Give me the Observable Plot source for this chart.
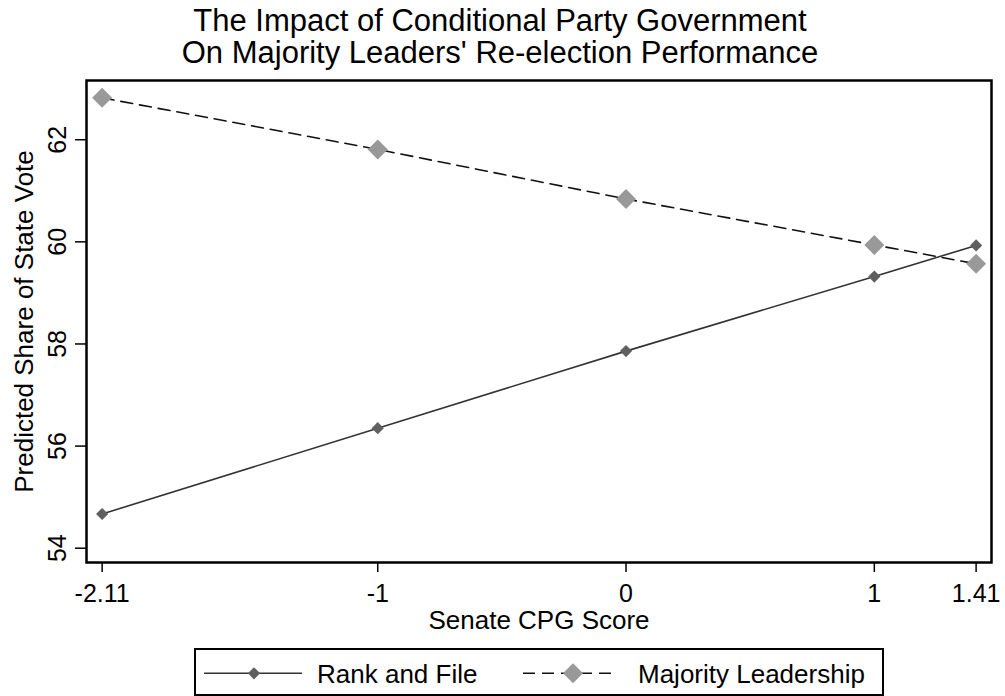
<!DOCTYPE html>
<html><head><meta charset="utf-8">
<script src="https://cdn.jsdelivr.net/npm/d3@7"></script>
<script src="https://cdn.jsdelivr.net/npm/@observablehq/plot@0.6"></script>
<style>
body{margin:0;background:#fff;font-family:"Liberation Sans",Arial,sans-serif;}
#wrap{position:relative;width:1005px;height:696px;overflow:hidden;background:#fff;}
.tline{position:absolute;left:0;width:1000px;text-align:center;font-size:31px;line-height:31px;height:31px;color:#000;white-space:nowrap;}
#t1{top:5px;} #t2{top:37px;}
#chart{position:absolute;left:0;top:70px;}
#legend{position:absolute;left:194px;top:648px;}
</style></head><body>
<div id="wrap">
<div id="t1" class="tline"></div>
<div id="t2" class="tline"></div>
<div id="chart"></div>
<div id="legend"></div>
</div>
<script>
const titleLines = ["The Impact of Conditional Party Government", "On Majority Leaders' Re-election Performance"];
const cpgScores = [-2.11, -1, 0, 1, 1.41];
const rankAndFile = [54.67, 56.35, 57.86, 59.32, 59.93];
const majorityLeadership = [62.82, 61.81, 60.84, 59.94, 59.57];
const seriesNames = ["Rank and File", "Majority Leadership"];
const xTicks = [-2.11, -1, 0, 1, 1.41];
const yTicks = [54, 56, 58, 60, 62];
const xDomain = [-2.173, 1.472];
const yDomain = [53.72, 63.16];
const xLabel = "Senate CPG Score";
const yLabel = "Predicted Share of State Vote";

document.getElementById("t1").textContent = titleLines[0];
document.getElementById("t2").textContent = titleLines[1];

const rankRows = cpgScores.map((x, i) => ({x, y: rankAndFile[i], series: seriesNames[0]}));
const majRows = cpgScores.map((x, i) => ({x, y: majorityLeadership[i], series: seriesNames[1]}));

const font = "'Liberation Sans', Arial, sans-serif";
const chart = Plot.plot({
  width: 1005, height: 560,
  marginTop: 10, marginLeft: 86, marginRight: 14, marginBottom: 68,
  x: {domain: xDomain},
  y: {domain: yDomain},
  style: {fontFamily: font, fontSize: "25px", color: "#000", background: "#fff", overflow: "visible"},
  marks: [
    Plot.axisX({ticks: xTicks, tickFormat: d => String(d), tickSize: 10, tickPadding: 12, strokeWidth: 1.5, label: null, fontSize: 25}),
    Plot.axisY({ticks: yTicks, tickSize: 11, tickFormat: () => "", strokeWidth: 1.5, label: null}),
    Plot.text(yTicks, {y: d => d, text: d => String(d), frameAnchor: "left", textAnchor: "middle", rotate: -90, dx: -29, fontSize: 25, lineAnchor: "middle"}),
    Plot.text([yLabel], {text: d => d, frameAnchor: "left", textAnchor: "middle", rotate: -90, dx: -62, fontSize: 26, lineAnchor: "middle"}),
    Plot.text([xLabel], {text: d => d, frameAnchor: "bottom", dy: 58, fontSize: 26, lineAnchor: "middle"}),
    Plot.line(rankRows, {x: "x", y: "y", stroke: "#333", strokeWidth: 1.6}),
    Plot.line(majRows, {x: "x", y: "y", stroke: "#111", strokeWidth: 1.6, strokeDasharray: "12,7"}),
    Plot.dot(rankRows, {x: "x", y: "y", symbol: "diamond2", r: 5.5, fill: "#606060", stroke: "none"}),
    Plot.dot(majRows, {x: "x", y: "y", symbol: "diamond2", r: 9, fill: "#999", stroke: "none"}),
    Plot.frame({stroke: "#000", strokeWidth: 2.5})
  ]
});
document.getElementById("chart").appendChild(chart);

// legend
const lg = d3.select("#legend").append("svg").attr("width", 690).attr("height", 48);
lg.append("rect").attr("x", 1).attr("y", 1).attr("width", 688).attr("height", 46)
  .attr("fill", "#fff").attr("stroke", "#000").attr("stroke-width", 2);
const diamond = (s) => d3.symbol(d3.symbolDiamond2, s)();
const items = [
  {x0: 10, x1: 108, cx: 60, tx: 123, stroke: "#333", dash: null, fill: "#606060", size: Math.PI * 5.5 * 5.5},
  {x0: 329, x1: 421, cx: 379, tx: 444, stroke: "#111", dash: "12,7", fill: "#999", size: Math.PI * 9 * 9}
];
items.forEach((it, i) => {
  lg.append("line").attr("x1", it.x0).attr("x2", it.x1).attr("y1", 25.3).attr("y2", 25.3)
    .attr("stroke", it.stroke).attr("stroke-width", 1.6).attr("stroke-dasharray", it.dash);
  lg.append("path").attr("d", diamond(it.size)).attr("transform", `translate(${it.cx},25.3)`).attr("fill", it.fill);
  lg.append("text").attr("x", it.tx).attr("y", 34.6).attr("font-family", font).attr("font-size", 26)
    .attr("fill", "#000").text(seriesNames[i]);
});
</script>
</body></html>
